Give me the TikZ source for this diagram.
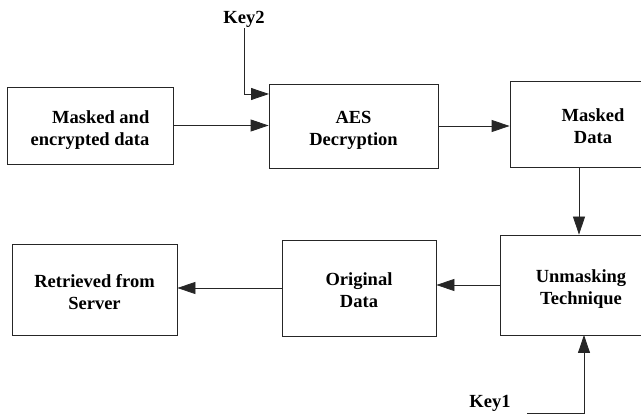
\documentclass[tikz,border=0pt]{standalone}
\usepackage{fontspec}
\setmainfont{Liberation Serif}
\usetikzlibrary{arrows.meta,calc}

\tikzset{
  block/.style={draw=black!85, line width=0.8pt, fill=white, inner sep=0pt,
    text height=40pt, text depth=0pt,
    font=\fontsize{18.5}{22}\selectfont\bfseries},
  arr/.style={draw=black!85, line width=0.8pt,
    -{Triangle[length=18pt,width=12pt]}},
  wire/.style={draw=black!85, line width=0.8pt},
  keylabel/.style={inner sep=1pt, font=\fontsize{18.5}{22}\selectfont\bfseries}
}

\begin{document}
\begin{tikzpicture}[x=1pt,y=-1pt]
  \clip (0,0) rectangle (641,419);
  \fill[white] (0,0) rectangle (641,419);

  % processing blocks
  \node[block, minimum width=166pt, minimum height=77pt, align=right]
    (src) at (90,125.5) {Masked and\\encrypted data};
  \node[block, minimum width=169pt, minimum height=84pt, align=center]
    (aes) at (353.5,126) {AES\\Decryption};
  \node[block, minimum width=166pt, minimum height=86pt, align=center]
    (masked) at (593,124) {Masked\\Data};
  \node[block, minimum width=162pt, minimum height=100pt, align=center]
    (unmask) at (581,285) {Unmasking\\Technique};
  \node[block, minimum width=154pt, minimum height=96pt, align=center]
    (orig) at (359,288) {Original\\Data};
  \node[block, minimum width=165pt, minimum height=91pt, align=center]
    (retr) at (94.5,289.5) {Retrieved from\\Server};

  % key inputs
  \node[keylabel] (key2) at (244,19) {Key2};
  \node[keylabel] (key1) at (490,403) {Key1};
  \coordinate (k2in) at (269,94);
  \coordinate (k1start) at (527,413);
  \coordinate (k1end) at (584,335);
  \coordinate (mdown) at (579,0);

  % data flow
  \draw[arr] (src.east) -- (src.east -| aes.west);
  \draw[arr] (key2.south) |- (k2in);
  \draw[arr] (aes.east) -- (aes.east -| masked.west);
  \draw[arr] (masked.south -| mdown) -- (unmask.north -| mdown);
  \draw[arr] (unmask.west) -- (unmask.west -| orig.east);
  \draw[arr] (orig.west) -- (orig.west -| retr.east);
  \draw[arr] (k1start) -| (k1end);
\end{tikzpicture}
\end{document}
